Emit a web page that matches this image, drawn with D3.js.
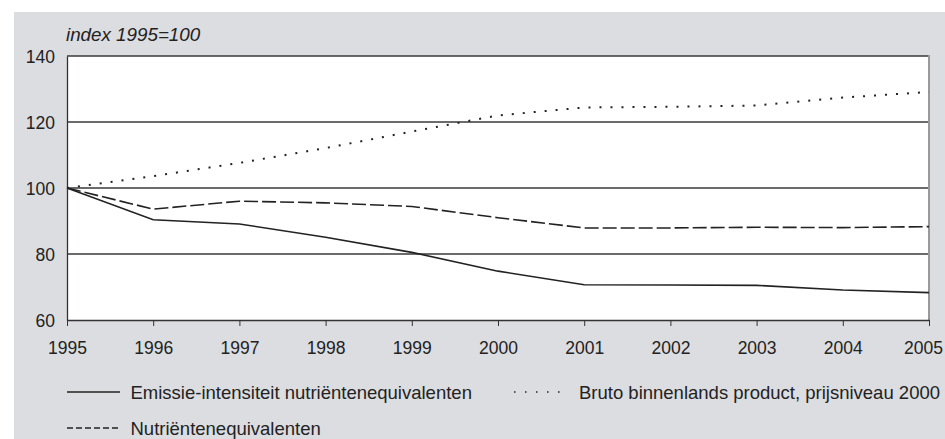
<!DOCTYPE html>
<html>
<head>
<meta charset="utf-8">
<script src="https://cdn.jsdelivr.net/npm/d3@7"></script>
<style>
  body { margin: 0; background: #fff; }
  svg { display: block; font-family: "Liberation Sans", Arial, sans-serif; }
</style>
</head>
<body>
<svg id="chart" width="945" height="439"></svg>
<script>
const years = [1995, 1996, 1997, 1998, 1999, 2000, 2001, 2002, 2003, 2004, 2005];
const emissieIntensiteit = [100, 90.4, 89.1, 85.1, 80.5, 74.8, 70.7, 70.6, 70.5, 69.1, 68.3];
const bbp = [100, 103.6, 107.6, 112.1, 117.1, 122.0, 124.4, 124.6, 125.0, 127.4, 129.1];
const nutrienten = [100, 93.6, 96.0, 95.5, 94.4, 91.0, 87.9, 87.9, 88.1, 88.0, 88.3];
const yTicks = [60, 80, 100, 120, 140];
const series = [
  { name: "Emissie-intensiteit nutriëntenequivalenten", values: emissieIntensiteit, dash: null, width: 1.6, legendDash: null },
  { name: "Bruto binnenlands product, prijsniveau 2000", values: bbp, dash: "2,9", width: 2, legendDash: "1.5,9.5" },
  { name: "Nutriëntenequivalenten", values: nutrienten, dash: "14,4", width: 1.6, legendDash: "6,3" }
];

const svg = d3.select("#chart");
const margin = { left: 67, top: 56, right: 929, bottom: 320 };

// grey panel
svg.append("rect").attr("x", 14).attr("y", 12).attr("width", 945 - 14).attr("height", 439 - 12)
  .attr("fill", "#dcdde0");
svg.append("rect").attr("x", margin.left).attr("y", margin.top)
  .attr("width", margin.right - margin.left).attr("height", margin.bottom - margin.top)
  .attr("fill", "#fff");

const x = d3.scaleLinear().domain([1995, 2005]).range([margin.left, margin.right]);
const y = d3.scaleLinear().domain([60, 140]).range([margin.bottom, margin.top]);

// gridlines
svg.append("g").selectAll("line").data(yTicks.filter(d => d > 60)).join("line")
  .attr("x1", margin.left).attr("x2", margin.right)
  .attr("y1", d => y(d)).attr("y2", d => y(d))
  .attr("stroke", "#3a3a3a").attr("stroke-width", 1.3);

// right border
svg.append("line").attr("x1", margin.right).attr("x2", margin.right)
  .attr("y1", margin.top - 1).attr("y2", margin.bottom)
  .attr("stroke", "#999").attr("stroke-width", 2);

// y axis
const yAxis = svg.append("g").attr("transform", `translate(${margin.left},0)`)
  .call(d3.axisLeft(y).tickValues(yTicks).tickSize(0).tickPadding(12));
yAxis.select(".domain").attr("stroke", "#333").attr("stroke-width", 1.3);
yAxis.selectAll("text").attr("font-size", 17.5).attr("fill", "#222")
  .attr("font-family", "Liberation Sans, Arial, sans-serif").attr("dy", "0.36em");

// x axis
const xAxis = svg.append("g").attr("transform", `translate(0,${margin.bottom})`)
  .call(d3.axisBottom(x).tickValues(years).tickFormat(d3.format("d")).tickSize(6).tickSizeOuter(0).tickPadding(16));
xAxis.select(".domain").attr("stroke", "#333").attr("stroke-width", 1.3);
xAxis.selectAll("line").attr("stroke", "#333");
xAxis.selectAll("text").attr("font-size", 17.5).attr("fill", "#222")
  .attr("font-family", "Liberation Sans, Arial, sans-serif");
xAxis.selectAll(".tick").filter(d => d === 2005).select("text").attr("dx", -6);

// unit label
svg.append("text").attr("x", 66).attr("y", 41)
  .attr("font-size", 18.8).attr("font-style", "italic").attr("fill", "#222")
  .text("index 1995=100");

// lines
const line = d3.line().x((d, i) => x(years[i])).y(d => y(d));
svg.append("g").selectAll("path").data(series).join("path")
  .attr("d", d => line(d.values))
  .attr("fill", "none").attr("stroke", "#222")
  .attr("stroke-width", d => d.width)
  .attr("stroke-dasharray", d => d.dash);

// legend
const legendPos = [
  { x: 67, y: 392 },
  { x: 514, y: 392 },
  { x: 67, y: 428 }
];
const lg = svg.append("g").selectAll("g").data(series).join("g")
  .attr("transform", (d, i) => `translate(${legendPos[i].x},${legendPos[i].y})`);
lg.append("line").attr("x1", 0).attr("x2", d => d.legendDash === "1.5,9.5" ? 50 : 53)
  .attr("stroke", "#222").attr("stroke-width", d => d.legendDash === "1.5,9.5" ? 1.5 : 1.3)
  .attr("stroke-dasharray", d => d.legendDash);
lg.append("text").attr("x", (d, i) => i === 1 ? 65 : 63.5).attr("y", 6.5)
  .attr("font-size", 18.5).attr("fill", "#222")
  .text(d => d.name);
</script>
</body>
</html>
